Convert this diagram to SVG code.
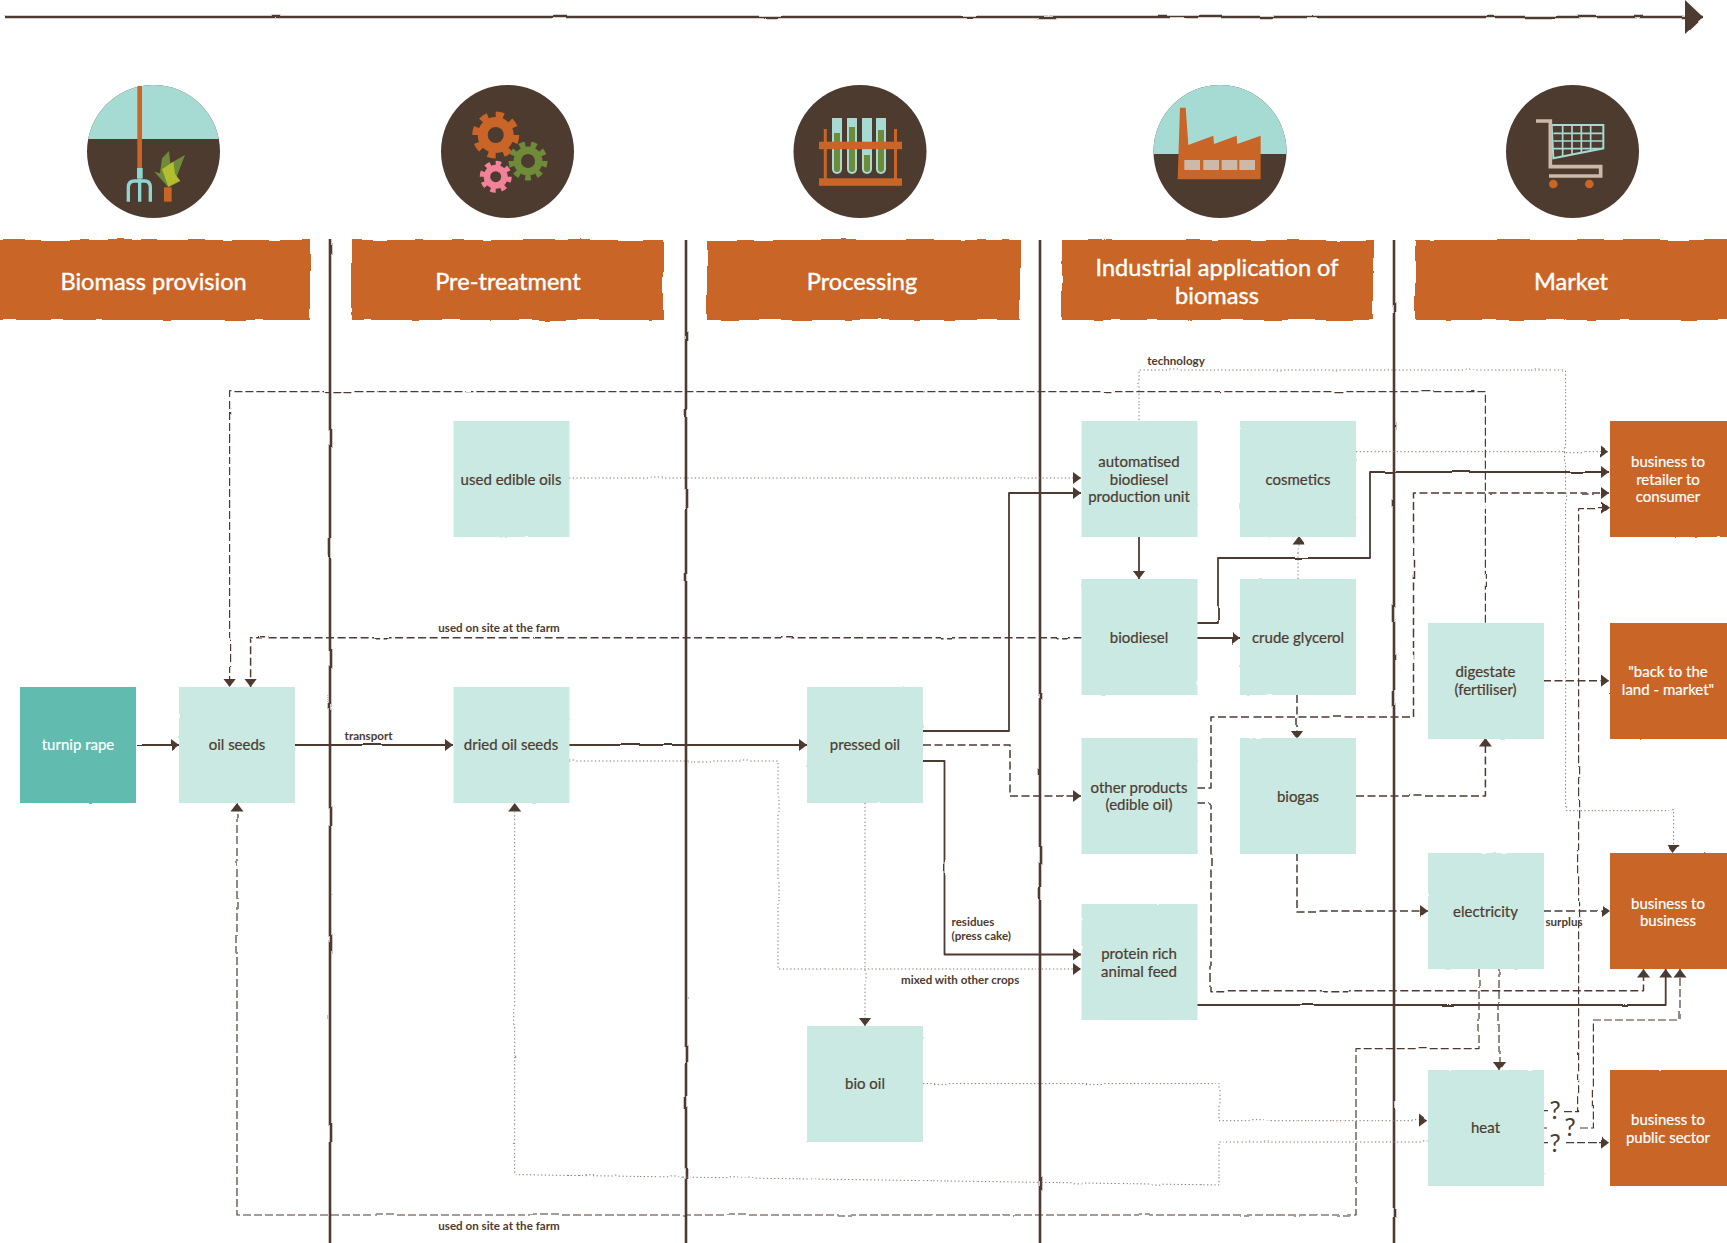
<svg xmlns="http://www.w3.org/2000/svg" width="1727" height="1243" viewBox="0 0 1727 1243">
<style>
text{font-family:"Lato","Noto Sans",sans-serif;text-anchor:middle}
.box{fill:#c9e9e2;filter:url(#rough)}
.src{fill:#62bbaf;filter:url(#rough)}
.mkt{fill:#c96527;filter:url(#rough)}
.hdr{fill:#c96527;filter:url(#wave)}
.t{font-size:15px;fill:#4e3b30;stroke:#4e3b30;stroke-width:.2}
.w{font-size:15px;fill:#fff;stroke:#fff;stroke-width:.2}
.h{font-size:23.6px;fill:#fff;stroke:#fff;stroke-width:.4}
.lab{font-size:11.6px;fill:#4e3b30;font-weight:700}
.left{text-anchor:start}
.q{font-size:25px;fill:#4e3b30}
.c{fill:none;stroke:#4e3b30;stroke-linejoin:round}
.so{stroke-width:1.8}
.da{stroke-width:1.5;stroke-dasharray:8 3.5}
.dl{stroke-width:1.2;stroke-dasharray:8 3}
.do{stroke-width:1;stroke-dasharray:1.3 2.4;stroke:#85766b}
.arr{marker-end:url(#ah)}
.sky{fill:#a5dbd2}
.soil{fill:#4e3b30}
.or{fill:#c96527}
.win{fill:#cdb9aa}
</style>
<defs>
<marker id="ah" markerUnits="userSpaceOnUse" markerWidth="10" markerHeight="14" refX="8.5" refY="7" orient="auto"><path d="M0 .5L8.5 7L0 13.5z" fill="#4e3b30"/></marker>
<marker id="big" markerUnits="userSpaceOnUse" markerWidth="20" markerHeight="34" refX="18" refY="17" orient="auto"><path d="M0 0L18 17L0 34z" fill="#4e3b30"/></marker>
<filter id="rough" filterUnits="userSpaceOnUse" x="0" y="0" width="1727" height="1243"><feTurbulence type="fractalNoise" baseFrequency=".09" numOctaves="2" seed="4"/><feDisplacementMap in="SourceGraphic" scale="1.8" xChannelSelector="R" yChannelSelector="G"/></filter>
<filter id="wave" filterUnits="userSpaceOnUse" x="-10" y="0" width="1750" height="1243"><feTurbulence type="fractalNoise" baseFrequency=".028" numOctaves="2" seed="7"/><feDisplacementMap in="SourceGraphic" scale="5.5" xChannelSelector="R" yChannelSelector="G"/></filter>
<filter id="wob" filterUnits="userSpaceOnUse" x="0" y="0" width="1727" height="1243"><feTurbulence type="fractalNoise" baseFrequency=".025" numOctaves="2" seed="11"/><feDisplacementMap in="SourceGraphic" scale="2.4" xChannelSelector="R" yChannelSelector="G"/></filter>
<clipPath id="ic1"><circle cx="93.5" cy="81.5" r="66.5"/></clipPath>
<clipPath id="ic4"><circle cx="1220" cy="151.5" r="66.5"/></clipPath>
</defs>
<rect width="1727" height="1243" fill="#fff"/>

<g id="timeline" filter="url(#wob)"><path class="c" d="M5 17L1703 17" style="stroke-width:2.4" marker-end="url(#big)"/></g>

<g id="dividers" filter="url(#wob)" fill="none" stroke="#4e3b30" stroke-width="2.6">
<path d="M330 240V1243"/><path d="M686 240V1243"/><path d="M1040 240V1243"/><path d="M1394 240V1243"/>
</g>

<g id="icon-biomass" transform="translate(60 70)">
<circle cx="93.5" cy="81.5" r="66.5" class="soil"/>
<path d="M27 15H160V69H27z" class="sky" clip-path="url(#ic1)"/>
<g transform="scale(.3333)">
<rect x="232" y="48" width="14" height="248" class="or"/>
<rect x="231" y="294" width="17" height="32" fill="#8fd6d2"/>
<path d="M205 395V352Q205 333 224 333H254Q271 333 271 352V395M239 326V395" fill="none" stroke="#8fd6d2" stroke-width="10"/>
<rect x="312" y="352" width="23" height="43" class="or"/>
<path d="M300 310L306 265L327 243L331 280L375 255L350 320L362 333L325 352L283 305z" fill="#6f8a38"/>
<path d="M306 298L340 275L345 312L360 332L325 350z" fill="#b1bf2f"/>
</g>
</g>

<g id="icon-pretreatment">
<circle cx="507.5" cy="151.5" r="66.5" class="soil"/>
<circle cx="495.7" cy="135" r="18" class="or"/>
<circle cx="495.7" cy="135" r="20" fill="none" stroke="#c96527" stroke-width="7" pathLength="16" stroke-dasharray="1 1"/>
<circle cx="495.7" cy="135" r="8" class="soil"/>
<circle cx="528" cy="161" r="14.5" fill="#6f8a38"/>
<circle cx="528" cy="161" r="16.5" fill="none" stroke="#6f8a38" stroke-width="6" pathLength="18" stroke-dasharray="1 1"/>
<circle cx="528" cy="161" r="7" class="soil"/>
<circle cx="495.7" cy="176.7" r="12" fill="#f2829a"/>
<circle cx="495.7" cy="176.7" r="13.5" fill="none" stroke="#f2829a" stroke-width="5" pathLength="16" stroke-dasharray="1 1"/>
<circle cx="495.7" cy="176.7" r="5.5" class="soil"/>
</g>

<g id="icon-processing">
<circle cx="860" cy="151.5" r="66.5" class="soil"/>
<g class="sky">
<path d="M832 118H842V169a5 5 0 0 1-10 0z"/><path d="M847 118H857V169a5 5 0 0 1-10 0z"/><path d="M862 118H872V169a5 5 0 0 1-10 0z"/><path d="M876 118H886V169a5 5 0 0 1-10 0z"/>
</g>
<g fill="#6f8a38">
<path d="M834 133H840V169a3 3 0 0 1-6 0z"/><path d="M849 127H855V169a3 3 0 0 1-6 0z"/><path d="M864 155H870V169a3 3 0 0 1-6 0z"/><path d="M878 130H884V169a3 3 0 0 1-6 0z"/>
</g>
<g class="or">
<rect x="819" y="141.7" width="83" height="7.5"/><rect x="819" y="178.3" width="83" height="7.5"/>
<rect x="823.8" y="129" width="3" height="50"/><rect x="894" y="129" width="3" height="50"/>
</g>
</g>

<g id="icon-industrial">
<circle cx="1220" cy="151.5" r="66.5" class="soil"/>
<path d="M1150 80H1290V154H1150z" class="sky" clip-path="url(#ic4)"/>
<g transform="translate(1140 70) scale(.3333)">
<path d="M113 328L120 113H137L145 225L220 197L222 222L290 197L292 222L362 197V328z" class="or"/>
<g class="win"><rect x="133" y="270" width="47" height="30"/><rect x="190" y="270" width="47" height="30"/><rect x="245" y="270" width="47" height="30"/><rect x="298" y="270" width="47" height="30"/></g>
</g>
</g>

<g id="icon-market">
<circle cx="1572.5" cy="151.5" r="66.5" class="soil"/>
<g transform="translate(1490 70) scale(.3333)">
<path d="M185 165H340V235L190 265z" fill="#4e3b30" stroke="#a5dbd2" stroke-width="6"/>
<path d="M218 168V258M246 168V252M274 168V247M302 168V241M190 190H338M190 213H338M190 236H330" stroke="#a5dbd2" stroke-width="5" fill="none"/>
<path d="M138 153H181V290H332V318H177" fill="none" stroke="#cdb9aa" stroke-width="11"/>
<circle cx="190" cy="342" r="13" class="or"/><circle cx="298" cy="342" r="13" class="or"/>
</g>
</g>

<g id="header-biomass"><rect class="hdr" x="-8" y="240" width="318" height="80"/><text class="h" x="153.6" y="289.5">Biomass provision</text></g>
<g id="header-pretreatment"><rect class="hdr" x="352" y="240" width="311" height="80"/><text class="h" x="508" y="289.5">Pre-treatment</text></g>
<g id="header-processing"><rect class="hdr" x="707" y="240" width="313" height="80"/><text class="h" x="862" y="289.5">Processing</text></g>
<g id="header-industrial"><rect class="hdr" x="1062" y="240" width="311" height="80"/><text class="h" x="1217" y="275.5">Industrial application of</text><text class="h" x="1217" y="303.5">biomass</text></g>
<g id="header-market"><rect class="hdr" x="1416" y="240" width="320" height="80"/><text class="h" x="1571" y="289.5">Market</text></g>

<g id="connectors" filter="url(#wob)">
<path class="c so arr" d="M136 745H179"/>
<path class="c so arr" d="M295 745H453"/>
<path class="c so arr" d="M569 745H807"/>
<path class="c so arr" d="M923 731H1009V493H1081"/>
<path class="c so arr" d="M923 761H944.5V954.5H1081"/>
<path class="c da arr" d="M923 745H1010V796H1081"/>
<path class="c so arr" d="M1139 536V579"/>
<path class="c so arr" d="M1197 638H1240"/>
<path class="c so arr" d="M1197 623H1218V558H1370V472H1609"/>
<path class="c do arr" d="M1298 579V536"/>
<path class="c da arr" d="M1297 695V738"/>
<path class="c da arr" d="M1197 788H1211V717H1413.5V493H1609"/>
<path class="c da arr" d="M1197 803H1211V990.7H1643.5V969"/>
<path class="c so arr" d="M1197 1005H1665.7V969"/>
<path class="c da arr" d="M1356 796H1485.4V738"/>
<path class="c da arr" d="M1297 853V911H1428"/>
<path class="c da arr" d="M1543 911H1610"/>
<path class="c dl arr" d="M1479 969V1048.7H1356V1215H237V803"/>
<path class="c dl arr" d="M1499 969V1070"/>
<path class="c dl arr" d="M1485.4 622.7V391.7H229.6V687"/>
<path class="c da arr" d="M1081.6 637.7H250.6V687"/>
<path class="c da arr" d="M1543 680.7H1609"/>
<path class="c do arr" d="M1139 421V370H1565.6V810.7H1673.6V853"/>
<path class="c do arr" d="M1356 451.7H1609"/>
<path class="c do arr" d="M569 478H1081"/>
<path class="c do arr" d="M569 761H778V969H1081"/>
<path class="c do arr" d="M865 803V1026"/>
<path class="c do arr" d="M923 1083.6H1219V1120.7H1427"/>
<path class="c do arr" d="M1428 1142H1219V1185L514.7 1174.6V803"/>
<path class="c dl arr" d="M1543 1111.7H1548M1564 1111.7H1578.6V507.7H1609"/>
<path class="c dl arr" d="M1543 1128H1546M1580 1128H1593.4V1020H1680V969"/>
<path class="c dl arr" d="M1543 1142.7H1548M1566 1142.7H1609"/>
</g>

<g id="connector-labels">
<text class="lab" x="1176" y="364.5">technology</text>
<text class="lab" x="499" y="631.5">used on site at the farm</text>
<text class="lab" x="499" y="1229.5">used on site at the farm</text>
<text class="lab" x="368.6" y="739.5">transport</text>
<text class="lab left" x="951.5" y="926">residues</text>
<text class="lab left" x="951.5" y="940">(press cake)</text>
<text class="lab left" x="901" y="984">mixed with other crops</text>
<text class="lab" x="1564" y="925.5">surplus</text>
<text class="q" x="1555" y="1119">?</text>
<text class="q" x="1570" y="1136">?</text>
<text class="q" x="1555" y="1152">?</text>
</g>

<g id="turnip-rape"><rect class="src" x="20" y="687" width="116" height="116"/><text class="w" x="78" y="750">turnip rape</text></g>
<g id="oil-seeds"><rect class="box" x="179" y="687" width="116" height="116"/><text class="t" x="237" y="750">oil seeds</text></g>
<g id="dried-oil-seeds"><rect class="box" x="453.5" y="687" width="116" height="116"/><text class="t" x="511" y="750">dried oil seeds</text></g>
<g id="used-edible-oils"><rect class="box" x="453.5" y="421" width="116" height="116"/><text class="t" x="511" y="485">used edible oils</text></g>
<g id="pressed-oil"><rect class="box" x="807" y="687" width="116" height="116"/><text class="t" x="865" y="750">pressed oil</text></g>
<g id="bio-oil"><rect class="box" x="807" y="1026" width="116" height="116"/><text class="t" x="865" y="1089">bio oil</text></g>
<g id="automatised"><rect class="box" x="1081.5" y="421" width="116" height="116"/><text class="t" x="1139" y="467">automatised</text><text class="t" x="1139" y="484.5">biodiesel</text><text class="t" x="1139" y="501.5">production unit</text></g>
<g id="cosmetics"><rect class="box" x="1240" y="421" width="116" height="116"/><text class="t" x="1298" y="485">cosmetics</text></g>
<g id="biodiesel"><rect class="box" x="1081.5" y="579" width="116" height="116"/><text class="t" x="1139" y="643">biodiesel</text></g>
<g id="crude-glycerol"><rect class="box" x="1240" y="579" width="116" height="116"/><text class="t" x="1298" y="643">crude glycerol</text></g>
<g id="other-products"><rect class="box" x="1081.5" y="738" width="116" height="116"/><text class="t" x="1139" y="792.5">other products</text><text class="t" x="1139" y="810">(edible oil)</text></g>
<g id="biogas"><rect class="box" x="1240" y="738" width="116" height="116"/><text class="t" x="1298" y="802">biogas</text></g>
<g id="protein"><rect class="box" x="1081.5" y="904" width="116" height="116"/><text class="t" x="1139" y="959">protein rich</text><text class="t" x="1139" y="977">animal feed</text></g>
<g id="digestate"><rect class="box" x="1428" y="623" width="116" height="116"/><text class="t" x="1485.5" y="677">digestate</text><text class="t" x="1485.5" y="695">(fertiliser)</text></g>
<g id="electricity"><rect class="box" x="1428" y="853" width="116" height="116"/><text class="t" x="1485.5" y="917">electricity</text></g>
<g id="heat"><rect class="box" x="1428" y="1070" width="116" height="116"/><text class="t" x="1485.5" y="1133">heat</text></g>
<g id="b2r"><rect class="mkt" x="1610" y="421" width="120" height="116"/><text class="w" x="1668" y="467">business to</text><text class="w" x="1668" y="485">retailer to</text><text class="w" x="1668" y="502">consumer</text></g>
<g id="back-to-land"><rect class="mkt" x="1610" y="623" width="120" height="116"/><text class="w" x="1668" y="677">"back to the</text><text class="w" x="1668" y="695">land - market"</text></g>
<g id="b2b"><rect class="mkt" x="1610" y="853" width="120" height="116"/><text class="w" x="1668" y="909">business to</text><text class="w" x="1668" y="926">business</text></g>
<g id="b2p"><rect class="mkt" x="1610" y="1070" width="120" height="116"/><text class="w" x="1668" y="1125">business to</text><text class="w" x="1668" y="1143">public sector</text></g>
</svg>
